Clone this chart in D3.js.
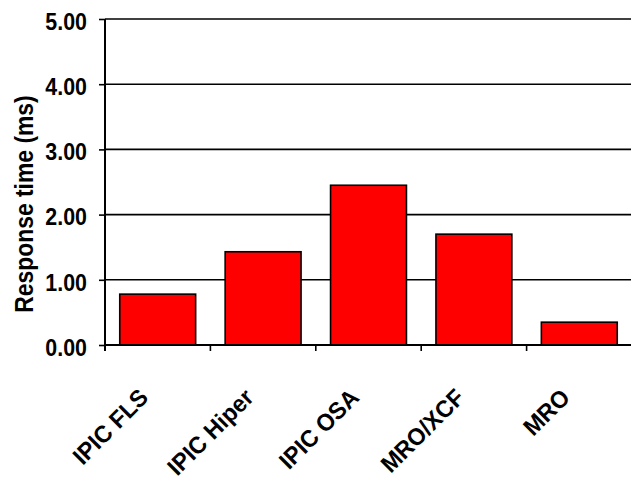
<!DOCTYPE html>
<html>
<head>
<meta charset="utf-8">
<script src="https://cdn.jsdelivr.net/npm/d3@7"></script>
<style>
  html, body { margin: 0; padding: 0; background: #fff; }
  svg { display: block; }
  text { font-family: "Liberation Sans", Arial, sans-serif; font-weight: bold; fill: #000; }
</style>
</head>
<body>
<svg id="chart" width="631" height="477"></svg>
<script>
// Response time per configuration (ms)
const categories = ["IPIC FLS", "IPIC Hiper", "IPIC OSA", "MRO/XCF", "MRO"];
const responseTimes = [0.78, 1.43, 2.45, 1.70, 0.35];
const yTicks = [0, 1, 2, 3, 4, 5];
const yTitle = "Response time (ms)";

const svg = d3.select("#chart");
const margin = { left: 105, right: -1, top: 19, bottom: 132 };
const W = 631, H = 477;
const x0 = margin.left, x1 = W - margin.right;
const yTop = margin.top, yBot = H - margin.bottom;

// narrow the glyphs of a text selection to a fraction of their natural width
function condense(sel, factor) {
  sel.each(function () {
    const len = this.getComputedTextLength();
    d3.select(this)
      .attr("textLength", len * factor)
      .attr("lengthAdjust", "spacingAndGlyphs");
  });
}

const x = d3.scaleBand()
  .domain(categories)
  .range([x0, x1])
  .paddingInner(0.28)
  .paddingOuter(0.14);

const y = d3.scaleLinear().domain([0, 5]).range([yBot, yTop]);

// horizontal gridlines
svg.append("g")
  .selectAll("line")
  .data(yTicks.filter(d => d > 0))
  .join("line")
  .attr("x1", x0).attr("x2", x1)
  .attr("y1", d => y(d)).attr("y2", d => y(d))
  .attr("stroke", "#000").attr("stroke-width", 1.6);

// bars
svg.append("g")
  .selectAll("rect")
  .data(categories)
  .join("rect")
  .attr("x", d => x(d))
  .attr("width", x.bandwidth())
  .attr("y", (d, i) => y(responseTimes[i]))
  .attr("height", (d, i) => y(0) - y(responseTimes[i]))
  .attr("fill", "#ff0000")
  .attr("stroke", "#000")
  .attr("stroke-width", 1.6);

// y axis
const yAxis = d3.axisLeft(y)
  .tickValues(yTicks)
  .tickFormat(d3.format(".2f"))
  .tickSize(6)
  .tickPadding(12);
const gy = svg.append("g").attr("transform", `translate(${x0},0)`).call(yAxis);
gy.select(".domain").remove();
gy.selectAll(".tick line").attr("stroke", "#000").attr("stroke-width", 1.6);
gy.selectAll(".tick text")
  .style("font-size", "23px")
  .style("font-family", "'Liberation Sans', Arial, sans-serif")
  .style("font-weight", "bold")
  .attr("dy", "0.45em")
  .call(condense, 0.93);

svg.append("line")
  .attr("x1", x0).attr("x2", x0)
  .attr("y1", yTop).attr("y2", yBot + 6)
  .attr("stroke", "#000").attr("stroke-width", 2);

// x axis with tick marks on category boundaries
const step = x.step();
const boundaries = d3.range(categories.length + 1).map(i => x0 + i * step);
svg.append("line")
  .attr("x1", x0).attr("x2", x1)
  .attr("y1", yBot).attr("y2", yBot)
  .attr("stroke", "#000").attr("stroke-width", 2);
svg.append("g")
  .selectAll("line")
  .data(boundaries)
  .join("line")
  .attr("x1", d => d).attr("x2", d => d)
  .attr("y1", yBot).attr("y2", yBot + 6)
  .attr("stroke", "#000").attr("stroke-width", 1.6);

// rotated category labels
svg.append("g")
  .selectAll("text")
  .data(categories)
  .join("text")
  .attr("transform", d => `translate(${x(d) + x.bandwidth() / 2 - 8},${yBot + 54}) rotate(-45)`)
  .attr("text-anchor", "end")
  .style("font-size", "24px")
  .text(d => d)
  .call(condense, 0.96);

// y axis title
svg.append("text")
  .attr("transform", `translate(33,${(yTop + yBot) / 2 + 22}) rotate(-90)`)
  .attr("text-anchor", "middle")
  .style("font-size", "26px")
  .text(yTitle)
  .call(condense, 0.88);
</script>
</body>
</html>
